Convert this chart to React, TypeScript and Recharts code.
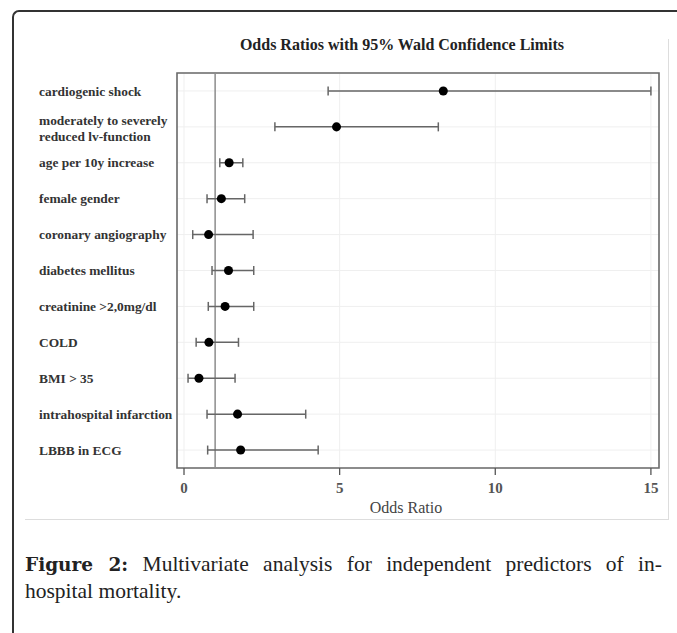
import React from 'react';
import {
  ScatterChart,
  Scatter,
  XAxis,
  YAxis,
  CartesianGrid,
  ReferenceLine,
  ReferenceArea,
  ErrorBar,
} from 'recharts';

// predictors, top to bottom as in the plot
const predictors = [
  'cardiogenic shock',
  'moderately to severely\nreduced lv-function',
  'age per 10y increase',
  'female gender',
  'coronary angiography',
  'diabetes mellitus',
  'creatinine >2,0mg/dl',
  'COLD',
  'BMI > 35',
  'intrahospital infarction',
  'LBBB in ECG',
];
const oddsRatio = [8.33, 4.9, 1.45, 1.2, 0.79, 1.43, 1.32, 0.8, 0.48, 1.72, 1.82];
const lowerCL = [4.63, 2.92, 1.15, 0.74, 0.28, 0.9, 0.78, 0.39, 0.13, 0.74, 0.76];
const upperCL = [15.0, 8.17, 1.89, 1.95, 2.22, 2.24, 2.24, 1.75, 1.64, 3.91, 4.31];
const xTicks = [0, 5, 10, 15];
const xDomain: [number, number] = [-0.225, 15.26];

const rows = predictors.map((name, i) => ({
  name,
  or: oddsRatio[i],
  ci: [oddsRatio[i] - lowerCL[i], upperCL[i] - oddsRatio[i]],
}));

const serif = '"Liberation Serif", "Times New Roman", serif';

function PredictorTick({ y, payload }: { y?: number; payload?: { value: string } }) {
  const lines = String(payload?.value ?? '').split('\n');
  const start = lines.length > 1 ? -7 : 0;
  return (
    <text x={39} y={y} textAnchor="start" fontFamily={serif} fontWeight="bold" fontSize={13.4} fill="#333">
      {lines.map((l, i) => (
        <tspan key={i} x={39} y={(y ?? 0) + start + i * 16} dy="0.35em">
          {l}
        </tspan>
      ))}
    </text>
  );
}

export default function App() {
  return (
    <div style={{ position: 'absolute', left: 0, top: 0, width: 677, height: 633, background: '#fff', overflow: 'hidden', fontFamily: serif }}>
      {/* outer frame */}
      <div style={{
        position: 'absolute', left: 12, top: 10, width: 700, height: 700,
        borderTop: '2px solid #333', borderLeft: '2px solid #333', borderTopLeftRadius: 7,
      }} />
      {/* figure panel edges */}
      <div style={{ position: 'absolute', left: 668, top: 39, width: 1, height: 480, background: '#ddd' }} />
      <div style={{ position: 'absolute', left: 25, top: 519, width: 644, height: 1, background: '#ddd' }} />

      <div style={{
        position: 'absolute', left: 202, top: 36, width: 400, textAlign: 'center',
        fontWeight: 'bold', fontSize: 16, color: '#222',
      }}>
        Odds Ratios with 95% Wald Confidence Limits
      </div>

      <div style={{ position: 'absolute', left: 0, top: 0 }}>
        <ScatterChart width={677} height={530} margin={{ top: 73, right: 18, bottom: 12, left: 0 }}>
          <CartesianGrid stroke="#efefef" strokeWidth={1} />
          <XAxis
            type="number"
            dataKey="or"
            domain={xDomain}
            allowDataOverflow
            ticks={xTicks}
            axisLine={false}
            tickLine={{ stroke: '#555', strokeWidth: 1.3 }}
            tickSize={7}
            tickMargin={7}
            height={50}
            tick={{ fontFamily: serif, fontSize: 15, fontWeight: 'bold', fill: '#555' }}
            label={{ value: 'Odds Ratio', position: 'insideBottom', offset: 5, dx: -12, fontFamily: serif, fontSize: 16, fill: '#444' }}
          />
          <YAxis
            type="category"
            dataKey="name"
            width={177}
            reversed
            axisLine={false}
            tickLine={false}
            tick={<PredictorTick />}
            interval={0}
          />
          <ReferenceArea x1={xDomain[0]} x2={xDomain[1]} fill="none" stroke="#6a6a6a" strokeWidth={1.6} ifOverflow="visible" />
          <ReferenceLine x={1} stroke="#8c8c8c" strokeWidth={1.5} />
          <Scatter data={rows} fill="#000" isAnimationActive={false}>
            <ErrorBar dataKey="ci" direction="x" width={4.5} stroke="#666" strokeWidth={1.5} />
          </Scatter>
        </ScatterChart>
      </div>

      <div style={{ position: 'absolute', left: 25, top: 551, width: 637, fontSize: 21.5, color: '#222', lineHeight: '27px' }}>
        <div style={{ textAlign: 'justify', textAlignLast: 'justify' }}>
          <b style={{ fontFamily: '"DejaVu Serif", serif', fontSize: 18.5 }}>Figure 2:</b> Multivariate analysis for independent predictors of in-
        </div>
        <div>hospital mortality.</div>
      </div>
    </div>
  );
}
